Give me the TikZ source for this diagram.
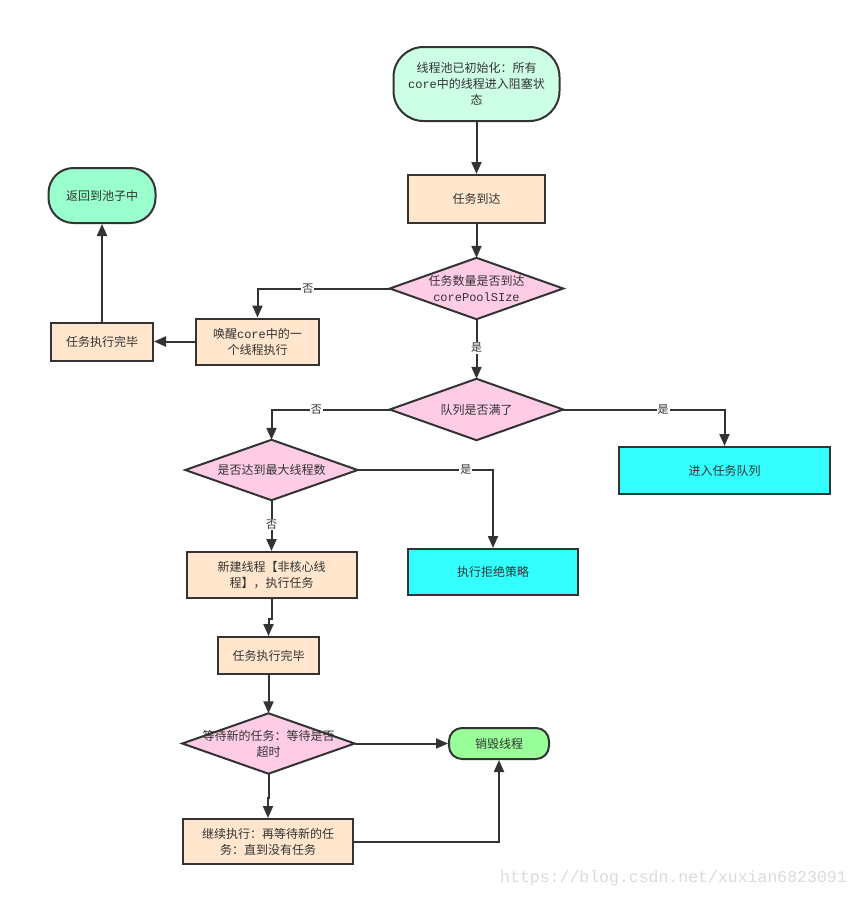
\documentclass[tikz,border=0pt]{standalone}
\usepackage{fontspec}
\setmainfont{Noto Sans CJK SC}
\newfontfamily\monofont{Liberation Mono}
\usetikzlibrary{arrows.meta,backgrounds}
\definecolor{strokec}{HTML}{333333}
\definecolor{mintc}{HTML}{CCFFE6}
\definecolor{peachc}{HTML}{FFE6CC}
\definecolor{pinkc}{HTML}{FFCCE6}
\definecolor{greenc}{HTML}{99FFCC}
\definecolor{limec}{HTML}{99FF99}
\definecolor{cyanc}{HTML}{33FFFF}
\tikzset{
  base/.style={draw=strokec, line width=2pt, text=strokec, inner sep=0pt, align=center, font=\fontsize{12}{16}\selectfont},
  rectbox/.style={base, fill=peachc},
  cyanbox/.style={base, fill=cyanc},
  decision/.style={inner sep=0pt, align=center, text=strokec, font=\fontsize{12}{16}\selectfont},
  dshape/.style={draw=strokec, line width=2pt, fill=pinkc, line join=miter},
  arr/.style={draw=strokec, line width=2pt, -{Triangle[length=12pt,width=10pt]}},
  lbl/.style={fill=white, inner sep=1pt, text=strokec, font=\fontsize{11}{13}\selectfont},
}
\begin{document}
\begin{tikzpicture}[x=1pt, y=-1pt]
\useasboundingbox (0,0) rectangle (862,897);

% nodes
\node[base, fill=mintc, rounded corners=30pt, minimum width=166pt, minimum height=74pt] (start) at (476.5,84)
  {线程池已初始化：所有\\{\monofont core}中的线程进入阻塞状\\态};
\node[rectbox, minimum width=137pt, minimum height=48pt] (arrive) at (476.5,199) {任务到达};
\node[decision, minimum width=173pt, minimum height=61pt] (d1) at (476.5,288.5) {任务数量是否到达\\{\monofont corePoolSIze}};
\node[rectbox, minimum width=123pt, minimum height=46pt] (wake) at (257.5,341.5) {唤醒{\monofont core}中的一\\个线程执行};
\node[rectbox, minimum width=102pt, minimum height=38pt] (done1) at (102,341.5) {任务执行完毕};
\node[base, fill=greenc, rounded corners=25pt, minimum width=107pt, minimum height=55pt] (ret) at (102,195.5) {返回到池子中};
\node[decision, minimum width=173pt, minimum height=61pt] (d2) at (476.5,409.5) {队列是否满了};
\node[cyanbox, minimum width=211pt, minimum height=47pt] (queue) at (724.5,470.5) {进入任务队列};
\node[decision, minimum width=172pt, minimum height=60pt] (d3) at (271.5,470) {是否达到最大线程数};
\node[cyanbox, minimum width=170pt, minimum height=46pt] (reject) at (493,572) {执行拒绝策略};
\node[rectbox, minimum width=170pt, minimum height=46pt] (newth) at (271.5,575) {新建线程【非核心线\\程】，执行任务};
\node[rectbox, minimum width=101pt, minimum height=37pt] (done2) at (268.5,655.5) {任务执行完毕};
\node[decision, minimum width=172pt, minimum height=60pt] (d4) at (268.5,743.5) {等待新的任务：等待是否\\超时};
\node[base, fill=limec, rounded corners=13pt, minimum width=100pt, minimum height=31pt] (destroy) at (499,743.5) {销毁线程};
\node[rectbox, minimum width=170pt, minimum height=45pt] (cont) at (268,841.5) {继续执行：再等待新的任\\务：直到没有任务};

\begin{scope}[on background layer]
  \fill[white] (0,0) rectangle (862,897);
  \foreach \d in {d1,d2,d3,d4}
    \draw[dshape] (\d.west) -- (\d.north) -- (\d.east) -- (\d.south) -- cycle;
\end{scope}

% connectors
\draw[arr] (start) -- (arrive);
\draw[arr] (arrive) -- (d1.north);
\draw[arr] (d1.west) -| (wake.north) node[lbl, pos=0.31] {否};
\draw[arr] (d1.south) -- (d2.north) node[lbl, pos=0.48] {是};
\draw[arr] (wake) -- (done1);
\draw[arr] (done1) -- (ret);
\draw[arr] (d2.west) -| (d3.north) node[lbl, pos=0.31] {否};
\draw[arr] (d2.east) -| (queue.north) node[lbl, pos=0.31] {是};
\draw[arr] (d3.east) -| (reject.north) node[lbl, pos=0.40] {是};
\draw[arr] (d3.south) -- (newth.north) node[lbl, pos=0.48] {否};
\draw[arr] (newth.south) -- ++(0,20) -| (done2.north);
\draw[arr] (done2) -- (d4.north);
\draw[arr] (d4.east) -- (destroy.west);
\draw[arr] (d4.south) -- ++(0,24) -| (cont.north);
\draw[arr] (cont.east) -| (destroy.south);

% watermark
\node[anchor=west, inner sep=0pt, text=black!14, font=\monofont\fontsize{16.5}{18}\selectfont] (wm) at (500,878) {https://blog.csdn.net/xuxian6823091};
\end{tikzpicture}
\end{document}
